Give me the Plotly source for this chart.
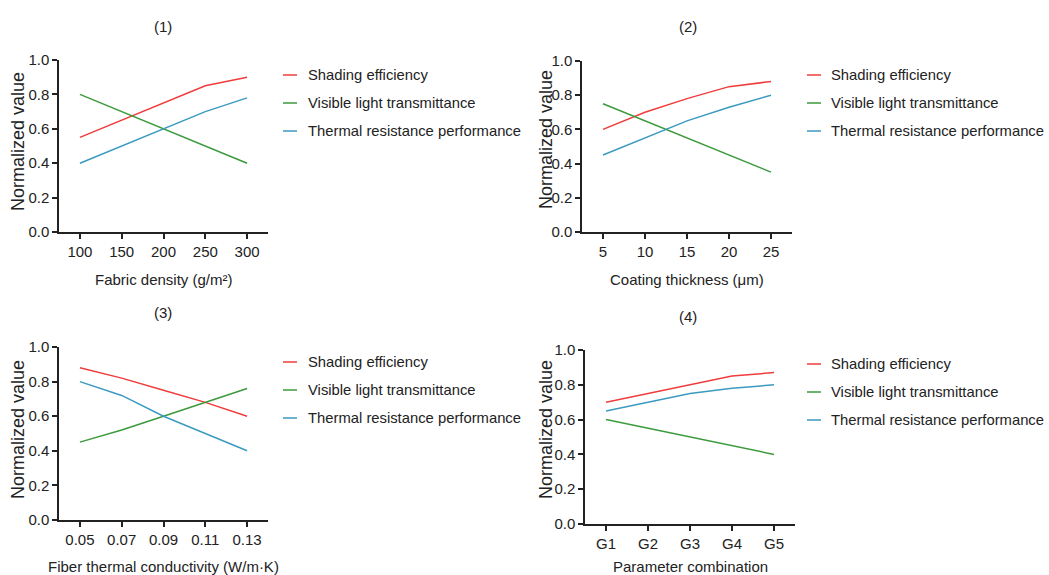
import plotly.graph_objects as go

W, H = 1049, 575

series_names = ["Shading efficiency", "Visible light transmittance", "Thermal resistance performance"]
colors = ["#F03C3C", "#3C9A3C", "#3C9AC0"]

# Panel 1
p1_x = [100, 150, 200, 250, 300]
p1_shading = [0.55, 0.65, 0.75, 0.85, 0.90]
p1_visible = [0.80, 0.70, 0.60, 0.50, 0.40]
p1_thermal = [0.40, 0.50, 0.60, 0.70, 0.78]

# Panel 2
p2_x = [5, 10, 15, 20, 25]
p2_shading = [0.60, 0.70, 0.78, 0.85, 0.88]
p2_visible = [0.75, 0.65, 0.55, 0.45, 0.35]
p2_thermal = [0.45, 0.55, 0.65, 0.73, 0.80]

# Panel 3
p3_x = [0.05, 0.07, 0.09, 0.11, 0.13]
p3_shading = [0.88, 0.82, 0.75, 0.68, 0.60]
p3_visible = [0.45, 0.52, 0.60, 0.68, 0.76]
p3_thermal = [0.80, 0.72, 0.60, 0.50, 0.40]

# Panel 4
p4_x = ["G1", "G2", "G3", "G4", "G5"]
p4_shading = [0.70, 0.75, 0.80, 0.85, 0.87]
p4_visible = [0.60, 0.55, 0.50, 0.45, 0.40]
p4_thermal = [0.65, 0.70, 0.75, 0.78, 0.80]

titles = ["(1)", "(2)", "(3)", "(4)"]
x_titles = ["Fabric density (g/m²)", "Coating thickness (μm)",
            "Fiber thermal conductivity (W/m·K)", "Parameter combination"]
y_title = "Normalized value"

panels = [
    (p1_x, [p1_shading, p1_visible, p1_thermal]),
    (p2_x, [p2_shading, p2_visible, p2_thermal]),
    (p3_x, [p3_shading, p3_visible, p3_thermal]),
    (p4_x, [p4_shading, p4_visible, p4_thermal]),
]

# layout geometry in pixels: (left, right, top, bottom)
boxes = [(59, 268, 60, 232), (582, 792, 61, 232), (59, 268, 347, 520), (585, 795, 350, 524)]
x_ranges = [[75, 325], [2.5, 27.5], [0.04, 0.14], [-0.5, 4.5]]
x_tickvals = [p1_x, p2_x, p3_x, None]
x_ticktext = [None, None, ["0.05", "0.07", "0.09", "0.11", "0.13"], None]
title_pos = [(163, 26), (688, 26), (163, 312), (688, 316)]
xtitle_y = [279, 279, 566, 566]
ytitle_pos = [(18, 142), (546, 140), (18, 430), (546, 430)]
legend_pos = [(283, 306, [75, 103, 131]), (807, 829, [75, 103, 131]),
              (283, 306, [362, 390, 418]), (807, 829, [364, 392, 420])]

FONT = "Liberation Sans, Arial, sans-serif"
TXT = "#222222"

def px(x):
    return x / W

def py(y):
    return 1 - y / H

fig = go.Figure()
annotations = []
shapes = []

for i, (xs, ys_list) in enumerate(panels):
    n = i + 1
    xa = "x" if n == 1 else f"x{n}"
    ya = "y" if n == 1 else f"y{n}"
    for name, ys, c in zip(series_names, ys_list, colors):
        fig.add_trace(go.Scatter(x=xs, y=ys, mode="lines", name=name,
                                 line=dict(color=c, width=1.5),
                                 xaxis=xa, yaxis=ya, showlegend=False))
    l, r, t, b = boxes[i]
    xkey = "xaxis" if n == 1 else f"xaxis{n}"
    ykey = "yaxis" if n == 1 else f"yaxis{n}"
    xaxis = dict(domain=[px(l), px(r)], range=x_ranges[i], anchor=ya, automargin=False,
                 showline=True, linecolor="#222", linewidth=1.5,
                 ticks="outside", ticklen=5, tickwidth=1.5, tickcolor="#222",
                 showgrid=False, zeroline=False,
                 tickfont=dict(family=FONT, size=15, color=TXT))
    if x_tickvals[i] is not None:
        xaxis["tickmode"] = "array"
        xaxis["tickvals"] = x_tickvals[i]
        if x_ticktext[i] is not None:
            xaxis["ticktext"] = x_ticktext[i]
    else:
        xaxis["type"] = "category"
    yaxis = dict(domain=[py(b), py(t)], range=[0, 1], anchor=xa, automargin=False,
                 showline=True, linecolor="#222", linewidth=1.5,
                 ticks="outside", ticklen=5, tickwidth=1.5, tickcolor="#222",
                 tickmode="array", tickvals=[0, 0.2, 0.4, 0.6, 0.8, 1.0],
                 tickformat=".1f",
                 showgrid=False, zeroline=False,
                 tickfont=dict(family=FONT, size=15, color=TXT))
    fig.update_layout(**{xkey: xaxis, ykey: yaxis})

    # panel title
    tx, ty = title_pos[i]
    annotations.append(dict(text=titles[i], x=px(tx), y=py(ty), xref="paper", yref="paper",
                            xanchor="center", yanchor="middle", showarrow=False,
                            font=dict(family=FONT, size=15, color=TXT)))
    # x title
    annotations.append(dict(text=x_titles[i], x=px((l + r) / 2), y=py(xtitle_y[i]),
                            xref="paper", yref="paper", xanchor="center", yanchor="middle",
                            showarrow=False,
                            font=dict(family=FONT, size=15, color=TXT)))
    # y title
    yx, yy = ytitle_pos[i]
    annotations.append(dict(text=y_title, x=px(yx), y=py(yy),
                            xref="paper", yref="paper", xanchor="center", yanchor="middle",
                            textangle=-90, showarrow=False,
                            font=dict(family=FONT, size=18, color=TXT)))
    # legend
    lx, tx0, rows = legend_pos[i]
    for name, c, ry in zip(series_names, colors, rows):
        shapes.append(dict(type="line", xref="paper", yref="paper",
                           x0=px(lx), x1=px(lx + 14), y0=py(ry), y1=py(ry),
                           line=dict(color=c, width=1.5)))
        annotations.append(dict(text=name, x=px(tx0), y=py(ry), xref="paper", yref="paper",
                                xanchor="left", yanchor="middle", showarrow=False,
                                font=dict(family=FONT, size=14.8, color=TXT)))

fig.update_layout(width=W, height=H, margin=dict(l=0, r=0, t=0, b=0, autoexpand=False),
                  paper_bgcolor="white", plot_bgcolor="white", template="none",
                  annotations=annotations, shapes=shapes, showlegend=False)

fig.write_html("out.html")
